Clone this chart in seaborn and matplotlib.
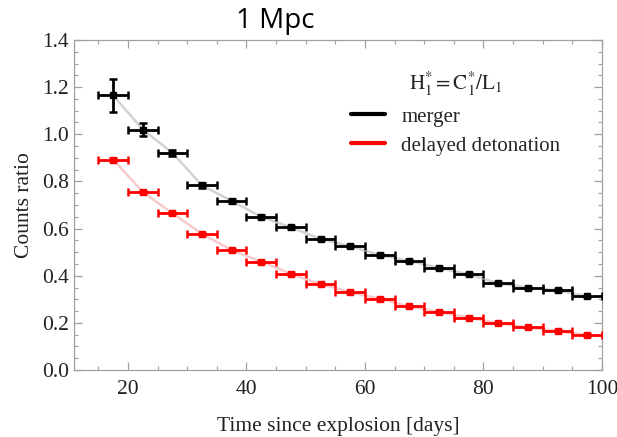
import numpy as np
import pandas as pd
import matplotlib
matplotlib.use("Agg")
import matplotlib.pyplot as plt
from matplotlib.lines import Line2D
import seaborn as sns

# bin centres (days) and half-width of each bin
days = [17.5, 22.5, 27.5, 32.5, 37.5, 42.5, 47.5, 52.5, 57.5,
        62.5, 67.5, 72.5, 77.5, 82.5, 87.5, 92.5, 97.5]
bin_half = 2.5

merger = [1.165, 1.020, 0.921, 0.783, 0.717, 0.650, 0.605, 0.556, 0.525,
          0.488, 0.463, 0.433, 0.406, 0.368, 0.349, 0.338, 0.312]
merger_err = [0.070, 0.028, 0.014, 0.010, 0.008, 0.007, 0.006, 0.006, 0.005,
              0.005, 0.005, 0.005, 0.004, 0.004, 0.004, 0.004, 0.004]

deldet = [0.893, 0.755, 0.665, 0.578, 0.508, 0.460, 0.408, 0.364, 0.331,
          0.302, 0.270, 0.246, 0.222, 0.198, 0.181, 0.165, 0.148]
deldet_err = [0.008, 0.006, 0.005, 0.004, 0.004, 0.004, 0.003, 0.003, 0.003,
              0.003, 0.003, 0.003, 0.003, 0.003, 0.003, 0.003, 0.003]

df = pd.DataFrame({"days": days, "merger": merger, "deldet": deldet})

sns.set_style("ticks")
plt.rcParams["font.family"] = ["Liberation Serif", "DejaVu Serif"]
plt.rcParams["mathtext.fontset"] = "stix"

fig = plt.figure(figsize=(6.17, 4.37), dpi=100)
ax = fig.add_axes([0.12, 0.1533, 0.8557, 0.7552])

# faint model curves behind the points
sns.lineplot(data=df, x="days", y="merger", ax=ax, color="#d2d2d2", lw=1.8, zorder=1)
sns.lineplot(data=df, x="days", y="deldet", ax=ax, color="#f9caca", lw=1.8, zorder=1)

ax.errorbar(days, merger, xerr=bin_half, yerr=merger_err, fmt="s", color="black",
            ms=4, elinewidth=2, capsize=3, capthick=1.8, zorder=3)
ax.errorbar(days, deldet, xerr=bin_half, yerr=deldet_err, fmt="s", color="red",
            ms=4, elinewidth=2, capsize=3, capthick=1.8, zorder=3)

ax.set_xlim(10.9, 100)
ax.set_ylim(0, 1.4)
ax.set_xticks([20, 40, 60, 80, 100])
ax.set_xticks(np.arange(15, 100, 5), minor=True)
ax.set_yticks(np.arange(0, 1.41, 0.2))
ax.set_yticks(np.arange(0, 1.41, 0.05), minor=True)
ax.yaxis.set_major_formatter(matplotlib.ticker.FormatStrFormatter("%.1f"))

ax.tick_params(which="both", direction="in", top=True, right=True, color="#a0a0a0",
               labelsize=15.5, labelcolor="#222222")
ax.tick_params(which="major", length=6, width=0.9)
ax.tick_params(which="minor", length=3, width=0.8)
ax.tick_params(axis="x", which="major", pad=7)
for sp in ax.spines.values():
    sp.set_color("#a0a0a0")
    sp.set_linewidth(0.9)

ax.set_xlabel("Time since explosion [days]", fontsize=15.5, color="#222222", labelpad=13)
ax.set_ylabel("Counts ratio", fontsize=15.5, color="#222222", labelpad=6)

handles = [Line2D([], [], color="black", lw=3), Line2D([], [], color="red", lw=3)]
leg = ax.legend(handles, ["merger", "delayed detonation"],
                title=r"$\mathrm{H}_1^{*} = \mathrm{C}_1^{*}/\mathrm{L}_1$",
                loc="upper right", bbox_to_anchor=(0.957, 0.965), frameon=False,
                fontsize=15, title_fontsize=15, handlelength=1.6, handletextpad=0.8,
                labelspacing=0.45)
leg._legend_box.align = "center"

fig.text(0.446, 0.952, "1 Mpc", ha="center", va="center", fontsize=20,
         family=["Open Sans", "DejaVu Sans"], color="black")

fig.savefig("out.png", dpi=100)
